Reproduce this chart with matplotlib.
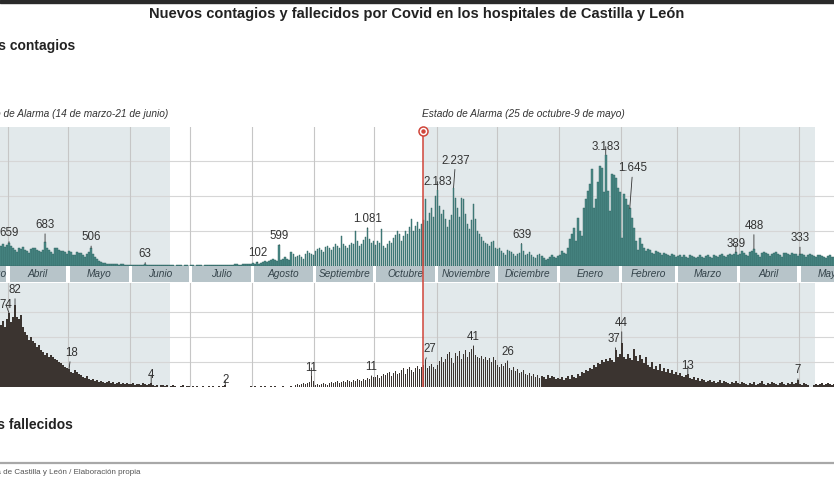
import matplotlib

matplotlib.use("Agg")
import matplotlib.pyplot as plt
import matplotlib.transforms as mtransforms
import numpy as np
from matplotlib.lines import Line2D
from matplotlib.patches import Rectangle

plt.rcParams["font.family"] = ["Liberation Sans", "DejaVu Sans"]

START = np.datetime64("2020-03-28")  # first day visible in the crop
END = np.datetime64("2021-05-18")
BAND_START = np.datetime64("2020-03-17")  # first month box of the original chart

# daily new cases, one list per month
cont_mar20 = [580, 630, 540, 610]
cont_apr20 = [659, 580, 520, 470, 400, 510, 490, 540, 470, 420, 370, 480, 500, 510, 460,
              440, 390, 470, 683, 520, 460, 400, 340, 520, 510, 470, 440, 420, 390, 340]
cont_may20 = [420, 390, 320, 300, 410, 380, 360, 320, 270, 340, 400, 506, 350, 260, 190, 130,
              110, 90, 80, 70, 60, 55, 60, 50, 45, 40, 45, 50, 40, 35, 38]
cont_jun20 = [35, 30, 28, 32, 25, 30, 28, 63, 30, 25, 20, 22, 18, 20, 25, 22, 18, 15, 20, 18,
              22, 16, 14, 18, 20, 15, 12, 16, 18, 14]
cont_jul20 = [15, 18, 12, 20, 22, 16, 14, 25, 20, 18, 22, 30, 25, 20, 28, 35, 30, 25, 38, 40,
              35, 30, 45, 50, 42, 38, 55, 60, 48, 52, 65]
cont_aug20 = [80, 70, 102, 60, 90, 120, 140, 110, 150, 180, 200, 170, 130, 599, 160, 210, 250,
              200, 170, 400, 330, 260, 290, 300, 250, 200, 350, 420, 380, 340, 310]
cont_sep20 = [440, 480, 520, 460, 400, 540, 580, 500, 470, 540, 620, 580, 500, 860, 640, 570,
              520, 600, 660, 620, 1000, 720, 580, 640, 740, 820, 1081, 780, 670, 720]
cont_oct20 = [600, 700, 650, 1050, 560, 500, 620, 720, 650, 800, 880, 1000, 900, 700, 850, 1000,
              900, 1100, 1340, 1000, 1150, 1250, 1050, 1200, 1300, 1900, 1290, 1500, 1660, 1400,
              2000]
cont_nov20 = [2183, 1700, 1490, 1600, 1340, 1100, 1300, 1450, 2237, 1950, 1660, 1400, 1950, 1900,
              1490, 1200, 1050, 1300, 1770, 1340, 1000, 900, 820, 700, 650, 620, 560, 680, 720,
              520]
cont_dec20 = [480, 520, 420, 380, 300, 450, 430, 400, 350, 280, 330, 380, 639, 420, 300, 350,
              400, 320, 260, 220, 300, 350, 280, 240, 180, 200, 260, 300, 250, 220, 280]
cont_jan21 = [300, 420, 380, 350, 500, 770, 900, 1090, 700, 1380, 1000, 850, 1670, 1900, 2140,
              2340, 2770, 1670, 1900, 2400, 2860, 2800, 2100, 3183, 2140, 1570, 2620, 2600, 2500,
              2240, 2100]
cont_feb21 = [800, 2050, 1900, 1750, 1645, 1380, 1090, 700, 450, 800, 630, 520, 430, 480, 450,
              380, 350, 420, 400, 360, 300, 380, 350, 320, 280, 330, 300, 260]
cont_mar21 = [280, 300, 250, 320, 260, 240, 300, 280, 250, 230, 270, 300, 260, 220, 280, 310,
              270, 240, 300, 290, 250, 310, 330, 280, 260, 300, 340, 320, 350, 389, 300]
cont_apr21 = [350, 420, 380, 300, 280, 400, 420, 488, 380, 300, 260, 380, 400, 360, 330, 280,
              350, 380, 400, 340, 300, 260, 380, 360, 340, 300, 380, 350, 330, 280]
cont_may21 = [333, 340, 300, 260, 320, 330, 300, 280, 250, 300, 310, 280, 260, 240, 280, 300,
              270, 250]

# daily deaths
fall_mar20 = [62, 66, 60, 68]
fall_apr20 = [74, 65, 70, 82, 70, 68, 72, 60, 55, 52, 47, 50, 46, 44, 40, 42, 37, 35, 32, 34,
              30, 32, 30, 28, 27, 25, 24, 22, 20, 19]
fall_may20 = [18, 15, 14, 17, 15, 13, 12, 10, 9, 11, 8, 7, 8, 6, 7, 5, 6, 5, 4, 5, 6, 4, 5, 3,
              4, 5, 3, 4, 3, 4, 3]
fall_jun20 = [3, 4, 2, 3, 3, 2, 4, 3, 2, 3, 4, 2, 1, 2, 0, 2, 2, 1, 2, 0, 1, 2, 1, 0, 0, 1, 2,
              0, 1, 1]
fall_jul20 = [0, 1, 0, 1, 0, 0, 1, 0, 0, 1, 0, 1, 0, 0, 1, 0, 1, 2, 0, 0, 0, 0, 0, 0, 0, 0, 0,
              0, 0, 0, 1]
fall_aug20 = [0, 1, 0, 0, 1, 0, 1, 0, 0, 1, 0, 1, 0, 0, 0, 1, 0, 0, 0, 1, 0, 2, 3, 2, 3, 4, 3,
              4, 5, 11, 6]
fall_sep20 = [2, 3, 2, 3, 4, 3, 2, 4, 5, 4, 5, 6, 4, 5, 6, 5, 7, 6, 5, 7, 6, 8, 7, 6, 8, 7, 9,
              8, 11, 10]
fall_oct20 = [10, 12, 9, 11, 13, 12, 14, 15, 11, 14, 16, 13, 14, 17, 19, 13, 18, 20, 17, 15, 19,
              21, 18, 20, 22, 27, 19, 21, 23, 20, 18]
fall_nov20 = [22, 26, 30, 25, 28, 33, 35, 29, 24, 34, 31, 36, 28, 33, 37, 30, 35, 38, 41, 32, 30,
              29, 31, 28, 30, 27, 29, 25, 30, 27]
fall_dec20 = [22, 20, 23, 21, 24, 26, 19, 17, 20, 16, 18, 14, 15, 17, 13, 12, 14, 11, 13, 10, 12,
              9, 11, 10, 8, 12, 9, 11, 10, 8, 9]
fall_jan21 = [8, 10, 7, 9, 11, 8, 12, 10, 9, 13, 11, 15, 14, 17, 16, 19, 18, 22, 20, 24, 23, 27,
              25, 28, 26, 29, 27, 25, 37, 30, 33]
fall_feb21 = [44, 30, 28, 33, 29, 27, 38, 31, 26, 32, 28, 24, 30, 22, 20, 25, 18, 21, 17, 23, 16,
              19, 15, 18, 14, 17, 13, 15]
fall_mar21 = [12, 14, 11, 10, 12, 13, 9, 8, 10, 7, 9, 6, 8, 7, 5, 6, 7, 5, 6, 4, 5, 7, 4, 6, 5,
              4, 3, 5, 4, 6, 4]
fall_apr21 = [3, 5, 4, 3, 2, 4, 3, 5, 2, 3, 4, 6, 3, 2, 4, 3, 5, 4, 3, 2, 4, 5, 3, 2, 4, 3, 5,
              3, 4, 7]
fall_may21 = [3, 2, 4, 3, 2, 0, 0, 2, 3, 2, 3, 4, 2, 3, 4, 3, 2, 3]

contagios = np.array(cont_mar20 + cont_apr20 + cont_may20 + cont_jun20 + cont_jul20 + cont_aug20
                     + cont_sep20 + cont_oct20 + cont_nov20 + cont_dec20 + cont_jan21
                     + cont_feb21 + cont_mar21 + cont_apr21 + cont_may21)
fallecidos = np.array(fall_mar20 + fall_apr20 + fall_may20 + fall_jun20 + fall_jul20 + fall_aug20
                      + fall_sep20 + fall_oct20 + fall_nov20 + fall_dec20 + fall_jan21
                      + fall_feb21 + fall_mar21 + fall_apr21 + fall_may21)

month_names = ["Marzo", "Abril", "Mayo", "Junio", "Julio", "Agosto", "Septiembre", "Octubre",
               "Noviembre", "Diciembre", "Enero", "Febrero", "Marzo", "Abril", "Mayo"]
alarm_periods = [("2020-03-14", "2020-06-21"), ("2020-10-25", "2021-05-09")]

# labelled days: (date, gap above the bar in px, x shift in px)
cont_labels = [("2020-04-01", 10, 0), ("2020-04-19", 17, 0), ("2020-05-12", 11, 0),
               ("2020-06-08", 10, 0), ("2020-08-03", 9, 0), ("2020-08-14", 9, 0),
               ("2020-09-27", 9, 0), ("2020-11-01", 8, 0), ("2020-11-09", 27, 2),
               ("2020-12-13", 9, 0), ("2021-01-24", 8, 0), ("2021-02-05", 40, 3),
               ("2021-03-30", 8, 0), ("2021-04-08", 23, 0), ("2021-05-01", 16, 0)]
fall_labels = [("2020-04-01", 8, -3), ("2020-04-04", 15, 0), ("2020-05-01", 16, 2),
               ("2020-06-11", 8, 0), ("2020-07-18", 5, 0), ("2020-08-30", 8, 0),
               ("2020-09-29", 9, 0), ("2020-10-26", 11, 4), ("2020-11-19", 9, 0),
               ("2020-12-06", 9, 0), ("2021-01-29", 11, -2), ("2021-02-01", 20, 0),
               ("2021-03-06", 8, 0), ("2021-04-30", 10, 0)]

W, H = 834, 479
TEAL, TEAL_EDGE = "#4b8a87", "#2e615f"
DARK = "#3b3430"
SHADE = "#e2e9eb"
RED = "#d0453a"
TXT = "#333333"


def day(s):
    return int((np.datetime64(s, "D") - START).astype(int))


def box(top, bottom):
    return [0, 1 - bottom / H, 1, (bottom - top) / H]


def label_bars(ax, values, labels):
    for s, gap, dx in labels:
        d = day(s)
        v = int(values[d])
        ax.annotate(f"{v:,}".replace(",", "."), xy=(d + 0.5, v), xytext=(dx, gap),
                    textcoords="offset pixels", ha="center", va="center", fontsize=8.3,
                    color=TXT, annotation_clip=False, zorder=7,
                    arrowprops=dict(arrowstyle="-", color=TXT, lw=0.6, shrinkA=0, shrinkB=0))


days = np.arange(len(contagios))
xmax = day(END) + 0.5
month_starts = np.arange(np.datetime64("2020-04"), np.datetime64("2021-06"), dtype="datetime64[M]")
month_lines = [day(m.astype("datetime64[D]")) for m in month_starts]

fig = plt.figure(figsize=(W / 100, H / 100), dpi=100)
ax_c = fig.add_axes(box(127, 266))
ax_m = fig.add_axes(box(266, 282.5))
ax_f = fig.add_axes(box(282.5, 387))

for ax, ymax, grid in ((ax_c, 3970, (1000, 2000, 3000)), (ax_f, 104.5, (25, 50, 75))):
    ax.set_xlim(0, xmax)
    ax.set_ylim(0, ymax)
    ax.set_axis_off()
    for a, b in alarm_periods:
        ax.axvspan(day(a), day(b), color=SHADE, lw=0, zorder=0)
    for y in grid:
        ax.axhline(y, color="#d6d6d6", lw=0.8, zorder=1)
    for d in month_lines:
        ax.axvline(d, color="#c6c6c6", lw=0.8, zorder=1)

ax_c.bar(days + 0.5, contagios, width=0.85, color=TEAL, edgecolor=TEAL_EDGE, linewidth=0.3,
         zorder=3)
ax_f.bar(days + 0.5, fallecidos, width=0.85, color=DARK, linewidth=0, zorder=3)
label_bars(ax_c, contagios, cont_labels)
label_bars(ax_f, fallecidos, fall_labels)

# month band
ax_m.set_xlim(0, xmax)
ax_m.set_ylim(0, 1)
ax_m.set_axis_off()
edges = [BAND_START] + list(month_starts.astype("datetime64[D]")) + [np.datetime64("2021-06-01")]
for i, name in enumerate(month_names):
    s, e = day(edges[i]), day(edges[i + 1])
    ax_m.add_patch(Rectangle((s + 0.8, 0.04), e - s - 1.6, 0.96, color="#b7c4c9", lw=0))
    ax_m.text((s + e) / 2, 0.5, name, ha="center", va="center", style="italic", fontsize=7.3,
              color="#34434a")

# red line for the second state of alarm
d_red = day("2020-10-25")
for ax in (ax_c, ax_m, ax_f):
    ax.axvline(d_red, color=RED, lw=1.1, zorder=6)
ax_c.plot(d_red, 3860, "o", ms=6.5, mfc="white", mec=RED, mew=1.1, clip_on=False, zorder=8)
ax_c.plot(d_red, 3860, "o", ms=2.2, color=RED, clip_on=False, zorder=9)

# texts
tr = mtransforms.blended_transform_factory(ax_c.transData, fig.transFigure)
ax_c.text(day("2020-06-21") - 1, 1 - 114 / H, "Estado de Alarma (14 de marzo-21 de junio)",
          transform=tr, ha="right", va="center", style="italic", fontsize=7.3, color=TXT)
ax_c.text(d_red - 0.5, 1 - 114 / H, "Estado de Alarma (25 de octubre-9 de mayo)",
          transform=tr, ha="left", va="center", style="italic", fontsize=7.3, color=TXT)

fig.text(417 / W, 1 - 14 / H,
         "Nuevos contagios y fallecidos por Covid en los hospitales de Castilla y León",
         ha="center", va="center", fontsize=10.5, fontweight="bold", color="#222222")
fig.text(75 / W, 1 - 46 / H, "Nuevos contagios", ha="right", va="center", fontsize=10,
         fontweight="bold", color="#222222")
fig.text(73 / W, 1 - 425 / H, "Nuevos fallecidos", ha="right", va="center", fontsize=10,
         fontweight="bold", color="#222222")
fig.text(140 / W, 1 - 472 / H, "Fuente: Junta de Castilla y León / Elaboración propia",
         ha="right", va="center", fontsize=5.8, color="#555555")

fig.add_artist(Rectangle((0, 1 - 3 / H), 1, 3 / H, transform=fig.transFigure, color="#2a2a2a"))
fig.add_artist(Line2D([0, 1], [1 - 462.5 / H] * 2, transform=fig.transFigure, color="#a8a8a8",
                      lw=1.6))

fig.savefig("out.png", dpi=100)
